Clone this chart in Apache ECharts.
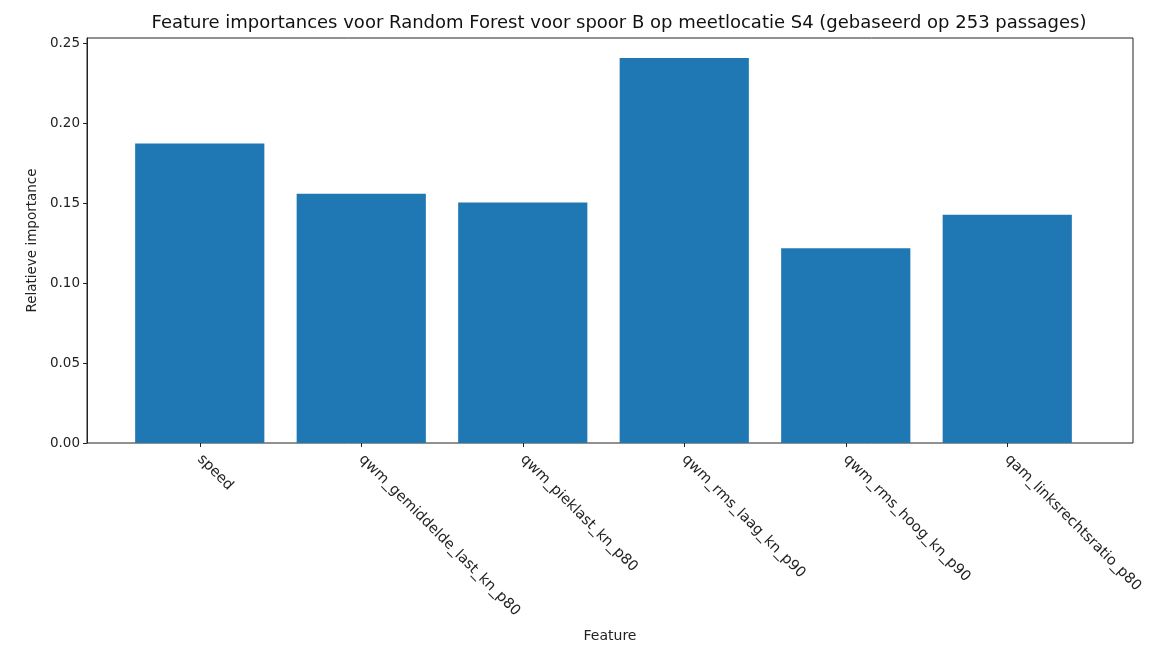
<!DOCTYPE html>
<html>
<head>
<meta charset="utf-8">
<script src="https://cdn.jsdelivr.net/npm/echarts@6/dist/echarts.min.js"></script>
<style>
  html, body { margin: 0; padding: 0; background: #fff; }
  #container { width: 1157px; height: 653px; }
</style>
</head>
<body>
<div id="container"></div>
<script>
const features = ['speed', 'qwm_gemiddelde_last_kn_p80', 'qwm_pieklast_kn_p80',
    'qwm_rms_laag_kn_p90', 'qwm_rms_hoog_kn_p90', 'qam_linksrechtsratio_p80'];
const importances = [0.1875, 0.156, 0.1506, 0.241, 0.122, 0.143];
const yMax = 0.2536;

function draw_bars() {
    let dom = document.getElementById("container");
    let myChart = echarts.init(dom);
    const font = 'DejaVu Sans';

    let option = {
        animation: false,
        title: {
            text: 'Feature importances voor Random Forest voor spoor B op meetlocatie S4 (gebaseerd op 253 passages)',
            left: 614,
            textAlign: 'center',
            top: 9,
            textStyle: {color: '#111', fontSize: 18, fontWeight: 'normal', fontFamily: font}
        },
        grid: [
            // outer frame, like the matplotlib axes box
            {left: 87, right: 24, top: 38, bottom: 210, show: true,
                borderColor: '#222', borderWidth: 1, backgroundColor: 'transparent'},
            // inner grid that positions the bars
            {left: 119, right: 69, top: 38, bottom: 210}
        ],
        xAxis: [
            {
                gridIndex: 0, type: 'value', min: 0, max: 1,
                axisLine: {show: false}, axisTick: {show: false},
                axisLabel: {show: false}, splitLine: {show: false},
                name: 'Feature', nameLocation: 'middle', nameGap: 186,
                nameTextStyle: {color: '#222', fontSize: 14, fontFamily: font}
            },
            {
                gridIndex: 1, type: 'category', data: features,
                axisLine: {show: false},
                axisTick: {show: true, alignWithLabel: true, length: 4,
                    lineStyle: {color: '#222'}},
                axisLabel: {rotate: -45, interval: 0, margin: 14,
                    color: '#222', fontSize: 14.5, fontFamily: font}
            }
        ],
        yAxis: [
            {
                gridIndex: 0, type: 'value', min: 0, max: yMax, interval: 0.05,
                axisLine: {show: true, lineStyle: {color: '#222'}},
                axisTick: {show: true, length: 4, lineStyle: {color: '#222'}},
                axisLabel: {color: '#222', fontSize: 13.5, fontFamily: font, margin: 7,
                    formatter: v => v.toFixed(2)},
                splitLine: {show: false},
                name: 'Relatieve importance', nameLocation: 'middle', nameGap: 47,
                nameRotate: 90,
                nameTextStyle: {color: '#222', fontSize: 13.5, fontFamily: font}
            },
            {gridIndex: 1, type: 'value', min: 0, max: yMax, show: false}
        ],
        series: [
            {
                type: 'bar',
                xAxisIndex: 1,
                yAxisIndex: 1,
                barWidth: '80%',
                itemStyle: {color: '#1f77b4'},
                data: importances
            }
        ]
    };

    myChart.setOption(option, true);
}
draw_bars();
</script>
</body>
</html>
